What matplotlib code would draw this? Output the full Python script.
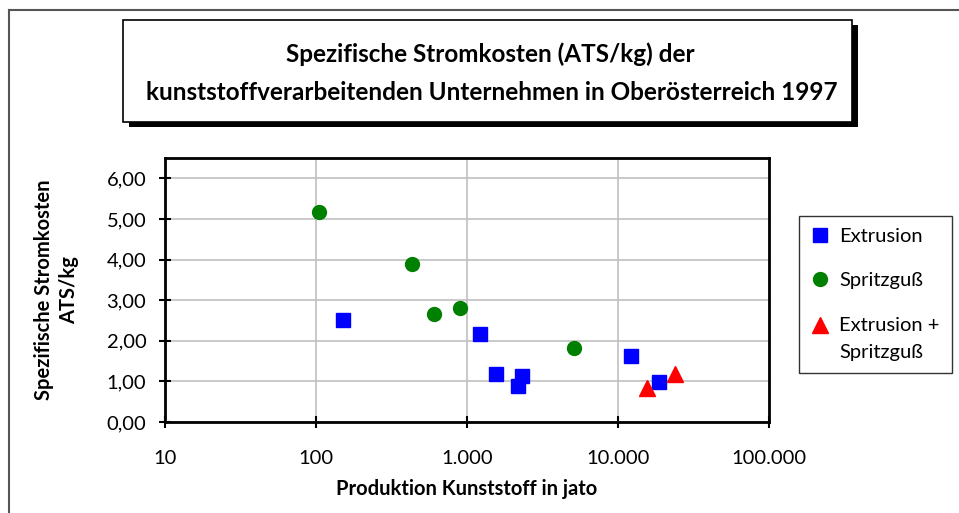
import numpy as np
import matplotlib.pyplot as plt
from matplotlib.patches import Rectangle
from matplotlib.lines import Line2D
from matplotlib.ticker import FixedLocator, FuncFormatter

# Data
extrusion_x = [152, 1220, 1560, 2330, 2180, 12100, 18700]
extrusion_y = [2.51, 2.16, 1.18, 1.13, 0.89, 1.62, 0.98]

spritzguss_x = [105, 430, 604, 898, 5140]
spritzguss_y = [5.17, 3.89, 2.66, 2.81, 1.82]

kombi_x = [15500, 24000]
kombi_y = [0.84, 1.18]

x_ticks = [10, 100, 1000, 10000, 100000]
x_tick_labels = ['10', '100', '1.000', '10.000', '100.000']
y_ticks = [0, 1, 2, 3, 4, 5, 6]

plt.rcParams['font.family'] = ['Lato', 'DejaVu Sans']

W, H = 959, 513
fig = plt.figure(figsize=(W / 100, H / 100), dpi=100)
fig.patch.set_facecolor('white')

def fx(px):
    return px / W

def fy(py):
    return 1 - py / H

# outer grey frame (top and left)
fig.add_artist(Line2D([fx(9), fx(9)], [fy(10), 0], color='#555555', lw=1.5))
fig.add_artist(Line2D([fx(9), 1], [fy(10), fy(10)], color='#555555', lw=1.5))

# title box with shadow
fig.add_artist(Rectangle((fx(129), fy(127)), fx(852 - 123), fy(20) - fy(122),
                         facecolor='black', edgecolor='black', lw=0))
fig.add_artist(Rectangle((fx(123), fy(122)), fx(852 - 123), fy(20) - fy(122),
                         facecolor='white', edgecolor='black', lw=1.2))
fig.text(fx(490), fy(54), 'Spezifische Stromkosten (ATS/kg) der',
         ha='center', va='center', fontsize=17.5, fontweight='bold')
fig.text(fx(492), fy(92), 'kunststoffverarbeitenden Unternehmen in Oberösterreich 1997',
         ha='center', va='center', fontsize=17.5, fontweight='bold')

ax = fig.add_axes([fx(165), fy(422), fx(769 - 165), fy(158) - fy(422)])
ax.set_xscale('log')
ax.set_xlim(10, 100000)
ax.set_ylim(0, 6.5)

ax.plot(extrusion_x, extrusion_y, linestyle='none', marker='s', markersize=10,
        color='#0000ff', label='Extrusion', zorder=3)
ax.plot(spritzguss_x, spritzguss_y, linestyle='none', marker='o', markersize=10,
        color='#008000', label='Spritzguß', zorder=3)
ax.plot(kombi_x, kombi_y, linestyle='none', marker='^', markersize=11,
        color='#ff0000', label='Extrusion +\nSpritzguß', zorder=3)

ax.xaxis.set_major_locator(FixedLocator(x_ticks))
ax.xaxis.set_minor_locator(FixedLocator([]))
ax.set_xticklabels(x_tick_labels)
ax.set_yticks(y_ticks)
ax.yaxis.set_major_formatter(FuncFormatter(lambda v, p: f'{v:.2f}'.replace('.', ',')))

ax.grid(True, color='#c0c0c0', lw=1.2)
ax.set_axisbelow(True)
for s in ax.spines.values():
    s.set_linewidth(2)
    s.set_color('black')
ax.tick_params(direction='inout', length=9, width=1.5, labelsize=14.5, colors='black')
ax.tick_params(axis='x', pad=16)
ax.tick_params(axis='y', pad=9)

ax.set_xlabel('Produktion Kunststoff in jato', fontsize=14.5, fontweight='bold', labelpad=8)
ax.set_ylabel('Spezifische Stromkosten\nATS/kg', fontsize=14.5, fontweight='bold',
              labelpad=20, linespacing=1.3)

leg = ax.legend(loc='upper left', bbox_to_anchor=(fx(799), fy(216)),
                bbox_transform=fig.transFigure, fontsize=14.5, frameon=True,
                fancybox=False, edgecolor='black', borderpad=0.6,
                labelspacing=1.35, handlelength=0.9, handletextpad=0.5,
                borderaxespad=0)
leg.get_frame().set_linewidth(1.0)
for t in leg.get_texts():
    t.set_linespacing(1.75)

# put the triangle next to the first line of its two-line label
tri = leg.legend_handles[2]
tri.set_ydata(np.asarray(tri.get_ydata(), dtype=float) + 10)

fig.savefig('out.png', dpi=100)
